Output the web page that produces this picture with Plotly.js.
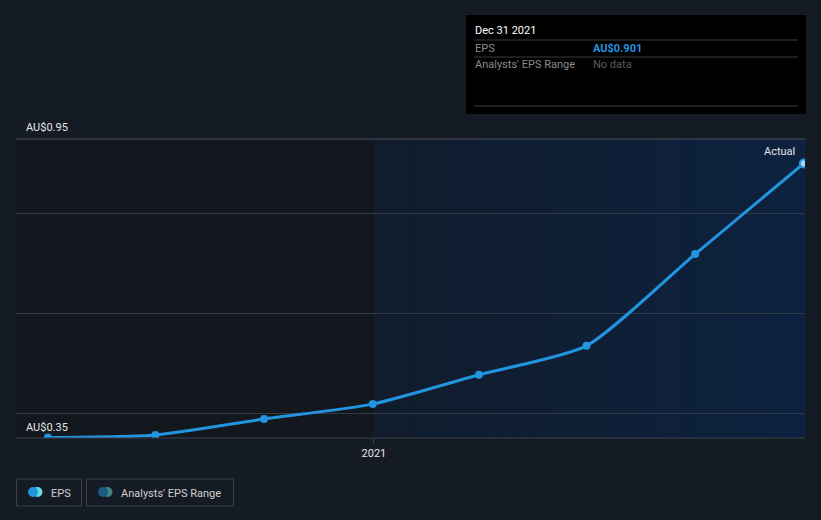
<!DOCTYPE html>
<html>
<head>
<meta charset="utf-8">
<script src="https://cdn.plot.ly/plotly-3.0.1.min.js"></script>
<style>html,body{margin:0;padding:0;background:#151b25;}#chart{width:821px;height:520px;}</style>
</head>
<body>
<div id="chart"></div>
<script>
const dates = ["2020-03-31","2020-06-30","2020-09-30","2020-12-31","2021-03-31","2021-06-30","2021-09-30","2021-12-31"];
const eps = [0.351, 0.356, 0.388, 0.418, 0.477, 0.535, 0.719, 0.901];
const yTicks = [0.4, 0.6, 0.8];
const yLabels = ["AU$0.95", "AU$0.35"];
const xTickVals = ["2021-01-01"];
const xTickText = ["2021"];
const xStart = "2020-03-04", xEnd = "2022-01-01", split = "2021-01-01";

const font = "Roboto, 'Open Sans', sans-serif";
const P = (px) => (px - 16) / 789;
const Q = (py) => (438 - py) / 299;

const n = eps.length;
const traces = [
  {x: dates, y: eps, type: "scatter", mode: "lines+markers",
   line: {color: "#2394df", width: 3, shape: "spline", smoothing: 0.6},
   marker: {color: eps.map((v, i) => i === n - 1 ? "#a9d6f5" : "#2394df"), size: 8,
            line: {color: "#2394df", width: eps.map((v, i) => i === n - 1 ? 2 : 0)}},
   hoverinfo: "skip", showlegend: false, cliponaxis: true}
];

const shapes = [
  {type:"rect", xref:"x", yref:"paper", x0:xStart, x1:split, y0:0, y1:1, fillcolor:"#13171e", line:{width:0}, layer:"below"}
];
// horizontal gradient for the forecast-side shading
const c0 = [17, 28, 44], c1 = [12, 34, 64];
const t0 = new Date(split).getTime(), t1 = new Date(xEnd).getTime();
const steps = 24;
for (let i = 0; i < steps; i++) {
  const a = t0 + (t1 - t0) * i / steps, b = t0 + (t1 - t0) * (i + 1) / steps + 86400000;
  const f = (i + 0.5) / steps;
  const c = c0.map((v, k) => Math.round(v + (c1[k] - v) * f));
  shapes.push({type:"rect", xref:"x", yref:"paper", x0:new Date(a).toISOString().slice(0,10), x1:new Date(Math.min(b, t1)).toISOString().slice(0,10), y0:0, y1:1,
    fillcolor:`rgb(${c[0]},${c[1]},${c[2]})`, line:{width:0}, layer:"below"});
}
shapes.push(
  {type:"line", xref:"paper", yref:"paper", x0:0, x1:1, y0:0, y1:0, line:{color:"#3b404b", width:1}},
  {type:"line", xref:"paper", yref:"paper", x0:0, x1:1, y0:1, y1:1, line:{color:"#4b505b", width:1}},
  // tooltip
  {type:"rect", xref:"paper", yref:"paper", x0:P(466), x1:P(806), y0:Q(114), y1:Q(15), fillcolor:"#000000", line:{width:0}},
  {type:"line", xref:"paper", yref:"paper", x0:P(474), x1:P(798), y0:Q(40), y1:Q(40), line:{color:"#3a3a3a", width:1}},
  {type:"line", xref:"paper", yref:"paper", x0:P(474), x1:P(798), y0:Q(57), y1:Q(57), line:{color:"#3a3a3a", width:1}},
  {type:"line", xref:"paper", yref:"paper", x0:P(474), x1:P(798), y0:Q(106), y1:Q(106), line:{color:"#3a3a3a", width:1}},
  // legend boxes
  {type:"rect", xref:"paper", yref:"paper", x0:P(16.5), x1:P(81.5), y0:Q(506), y1:Q(479), fillcolor:"rgba(0,0,0,0)", line:{color:"#3d424d", width:1}},
  {type:"rect", xref:"paper", yref:"paper", x0:P(86.5), x1:P(233.5), y0:Q(506), y1:Q(479), fillcolor:"rgba(0,0,0,0)", line:{color:"#3d424d", width:1}},
  {type:"circle", xref:"paper", yref:"paper", xsizemode:"pixel", ysizemode:"pixel", xanchor:P(37.5), yanchor:Q(492), x0:-5, x1:5, y0:-5, y1:5, fillcolor:"#5fe0d8", line:{width:0}},
  {type:"circle", xref:"paper", yref:"paper", xsizemode:"pixel", ysizemode:"pixel", xanchor:P(33), yanchor:Q(492), x0:-5, x1:5, y0:-5, y1:5, fillcolor:"#2394df", line:{width:0}},
  {type:"circle", xref:"paper", yref:"paper", xsizemode:"pixel", ysizemode:"pixel", xanchor:P(107.5), yanchor:Q(492), x0:-5, x1:5, y0:-5, y1:5, fillcolor:"#3c8783", line:{width:0}},
  {type:"circle", xref:"paper", yref:"paper", xsizemode:"pixel", ysizemode:"pixel", xanchor:P(103), yanchor:Q(492), x0:-5, x1:5, y0:-5, y1:5, fillcolor:"#1d5985", line:{width:0}}
);

const ann = (x, y, text, color, size, extra) => Object.assign({xref:"paper", yref:"paper", x:x, y:y, text:text, showarrow:false, xanchor:"left", yanchor:"middle", font:{family:font, size:size, color:color}}, extra || {});

const annotations = [
  ann(P(24), Q(127), yLabels[0], "#e6e6e6", 11),
  ann(P(24), Q(427), yLabels[1], "#e6e6e6", 11),
  ann(P(797), Q(151), "Actual", "#e6e6e6", 11, {xanchor:"right"}),
  ann(P(473), Q(30), "Dec 31 2021", "#ffffff", 11),
  ann(P(473), Q(48), "EPS", "#8a8a8a", 11),
  ann(P(591), Q(48), "<b>AU$0.901</b>", "#2394df", 11),
  ann(P(473), Q(65), "Analysts' EPS Range", "#8a8a8a", 11),
  ann(P(591), Q(65), "No data", "#5c5c5c", 11),
  ann(P(49), Q(493), "EPS", "#d0d0d0", 11),
  ann(P(119), Q(493), "Analysts' EPS Range", "#d0d0d0", 11)
];

const layout = {
  width: 821, height: 520,
  margin: {l:16, r:16, t:139, b:82, pad:0},
  paper_bgcolor: "#151b25", plot_bgcolor: "#151b25",
  font: {family: font, color: "#e6e6e6", size: 11},
  showlegend: false,
  xaxis: {type:"date", range:[xStart, xEnd], showgrid:false, zeroline:false, showline:false,
          tickvals: xTickVals, ticktext: xTickText, ticks:"outside", ticklen:5, tickcolor:"#3b404b",
          tickfont:{family:font, size:11, color:"#e6e6e6"}, fixedrange:true},
  yaxis: {range:[0.35, 0.95], tickvals: yTicks, showticklabels:false, showgrid:true, gridcolor:"#343a45", gridwidth:1,
          zeroline:false, showline:false, fixedrange:true},
  shapes: shapes,
  annotations: annotations,
  hovermode: false
};

Plotly.newPlot("chart", traces, layout, {displayModeBar:false, staticPlot:true});
</script>
</body>
</html>
